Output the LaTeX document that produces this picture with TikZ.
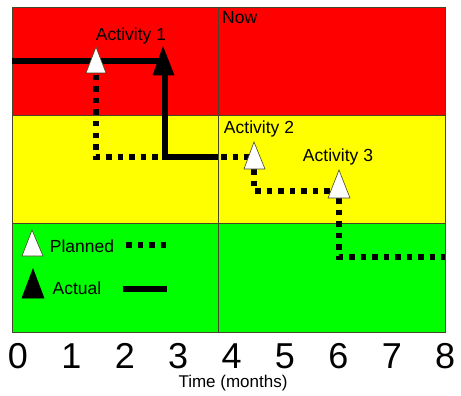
\documentclass[tikz,border=0pt]{standalone}
\usepackage{fontspec}
\setmainfont{Liberation Sans}
\definecolor{bandred}{RGB}{255,0,0}
\definecolor{bandyellow}{RGB}{255,255,0}
\definecolor{bandgreen}{RGB}{0,255,0}
\definecolor{edge}{RGB}{70,70,40}
\tikzset{
  band/.style={draw=edge, line width=0.8pt},
  planned/.style={line width=5.5pt, dash pattern=on 5.5pt off 6pt, line cap=butt},
  actual/.style={line width=6pt, line join=miter},
  lbl/.style={font=\fontsize{17.5}{20}\selectfont, inner sep=0pt},
  digit/.style={font=\fontsize{36}{40}\selectfont, inner sep=0pt},
  ptri/.style={fill=white, draw=edge, line width=0.6pt},
  atri/.style={fill=black, draw=black, line width=0.6pt},
}
\begin{document}
\begin{tikzpicture}[x=1pt,y=-1pt]
\useasboundingbox (0,0) rectangle (461,396);
% bands
\fill[bandred] (12,7) rectangle (445,115);
\fill[bandyellow] (12,115) rectangle (445,223);
\fill[bandgreen] (12,223) rectangle (445,332);
\draw[band] (12,115) -- (445,115);
\draw[band] (12,223) -- (445,223);
\draw[band] (218,7) -- (218,332);
\draw[band] (12,7) rectangle (445,332);
% key coordinates
\coordinate (a1p) at (96,75);
\coordinate (a1a) at (165,75);
\coordinate (a2p) at (254,169);
\coordinate (a3p) at (339,198);
\coordinate (start) at (12,61);
\coordinate (now) at (218,157);
\coordinate (endp) at (445,257);
% planned
\draw[planned] (a1p) -- (96,157) -- (254,157);
\draw[planned] (a2p) -- (254,191) -- (339,191);
\draw[planned] (a3p) |- (endp);
% actual
\draw[actual] (start) -- (163,61);
\draw[actual] (a1a) |- (now);
% triangles
\draw[ptri] (86,73) -- (96,47) -- (106,73) -- cycle;
\draw[atri] (153,75) -- (163,47) -- (174,75) -- cycle;
\draw[ptri] (244,169) -- (254,142) -- (265,169) -- cycle;
\draw[ptri] (328,198) -- (339,170) -- (350,198) -- cycle;
% labels
\node[lbl] (l1) at (131,36) {Activity 1};
\node[lbl] (l2) at (259,129) {Activity 2};
\node[lbl] (l3) at (338,157) {Activity 3};
\node[lbl, anchor=west] (lnow) at (222,18) {Now};
% legend
\draw[ptri] (22,256) -- (32,230) -- (43,256) -- cycle;
\draw[atri] (22,298) -- (33,269) -- (44,298) -- cycle;
\node[lbl] (lp) at (82,246) {Planned};
\node[lbl] (la) at (77,288) {Actual};
\coordinate (lps) at (126,245);
\coordinate (lpe) at (170,245);
\coordinate (las) at (123,289);
\coordinate (lae) at (167,289);
\draw[planned] (lps) -- (lpe);
\draw[actual] (las) -- (lae);
% axis
\foreach \k in {0,...,8}{
  \node[digit] (d\k) at ({18+53.4*\k},356) {\k};
}
\node[lbl, font=\fontsize{17}{20}\selectfont] (xl) at (233,383) {Time (months)};
\end{tikzpicture}
\end{document}
